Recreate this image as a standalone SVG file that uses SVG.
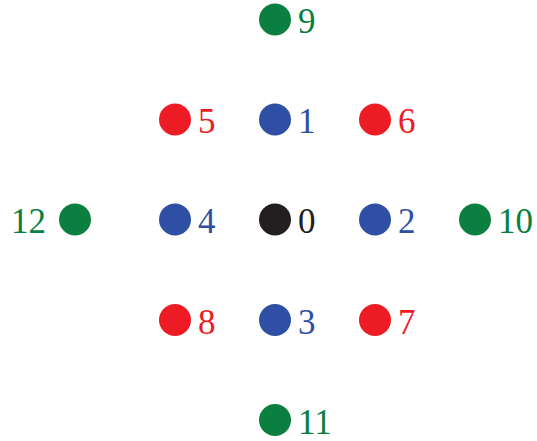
<svg xmlns="http://www.w3.org/2000/svg" width="537" height="441" viewBox="0 0 537 441">
<style>
text{font-family:"Liberation Serif","DejaVu Serif",serif;font-size:35px}
.r{fill:#ED1C24}.b{fill:#2E4FA3}.g{fill:#0A7F3F}.k{fill:#231F20}
</style>
<rect width="537" height="441" fill="#fff"/>
<g id="connectors"/>
<g id="n9" class="g"><circle cx="275" cy="19.5" r="16"/><text x="298" y="33">9</text></g>
<g id="n5" class="r"><circle cx="175" cy="119.5" r="16"/><text x="198" y="133">5</text></g>
<g id="n1" class="b"><circle cx="275" cy="119.5" r="16"/><text x="298" y="133">1</text></g>
<g id="n6" class="r"><circle cx="375" cy="119.5" r="16"/><text x="398" y="133">6</text></g>
<g id="n12" class="g"><circle cx="75" cy="219.5" r="16"/><text x="46" y="233" text-anchor="end">12</text></g>
<g id="n4" class="b"><circle cx="175" cy="219.5" r="16"/><text x="198" y="233">4</text></g>
<g id="n0" class="k"><circle cx="275" cy="219.5" r="16"/><text x="298" y="233">0</text></g>
<g id="n2" class="b"><circle cx="375" cy="219.5" r="16"/><text x="398" y="233">2</text></g>
<g id="n10" class="g"><circle cx="475" cy="219.5" r="16"/><text x="498" y="233">10</text></g>
<g id="n8" class="r"><circle cx="175" cy="320" r="16"/><text x="198" y="333.5">8</text></g>
<g id="n3" class="b"><circle cx="275" cy="320" r="16"/><text x="298" y="333.5">3</text></g>
<g id="n7" class="r"><circle cx="375" cy="320" r="16"/><text x="398" y="333.5">7</text></g>
<g id="n11" class="g"><circle cx="275" cy="420" r="16"/><text x="298" y="433.5">11</text></g>
</svg>
